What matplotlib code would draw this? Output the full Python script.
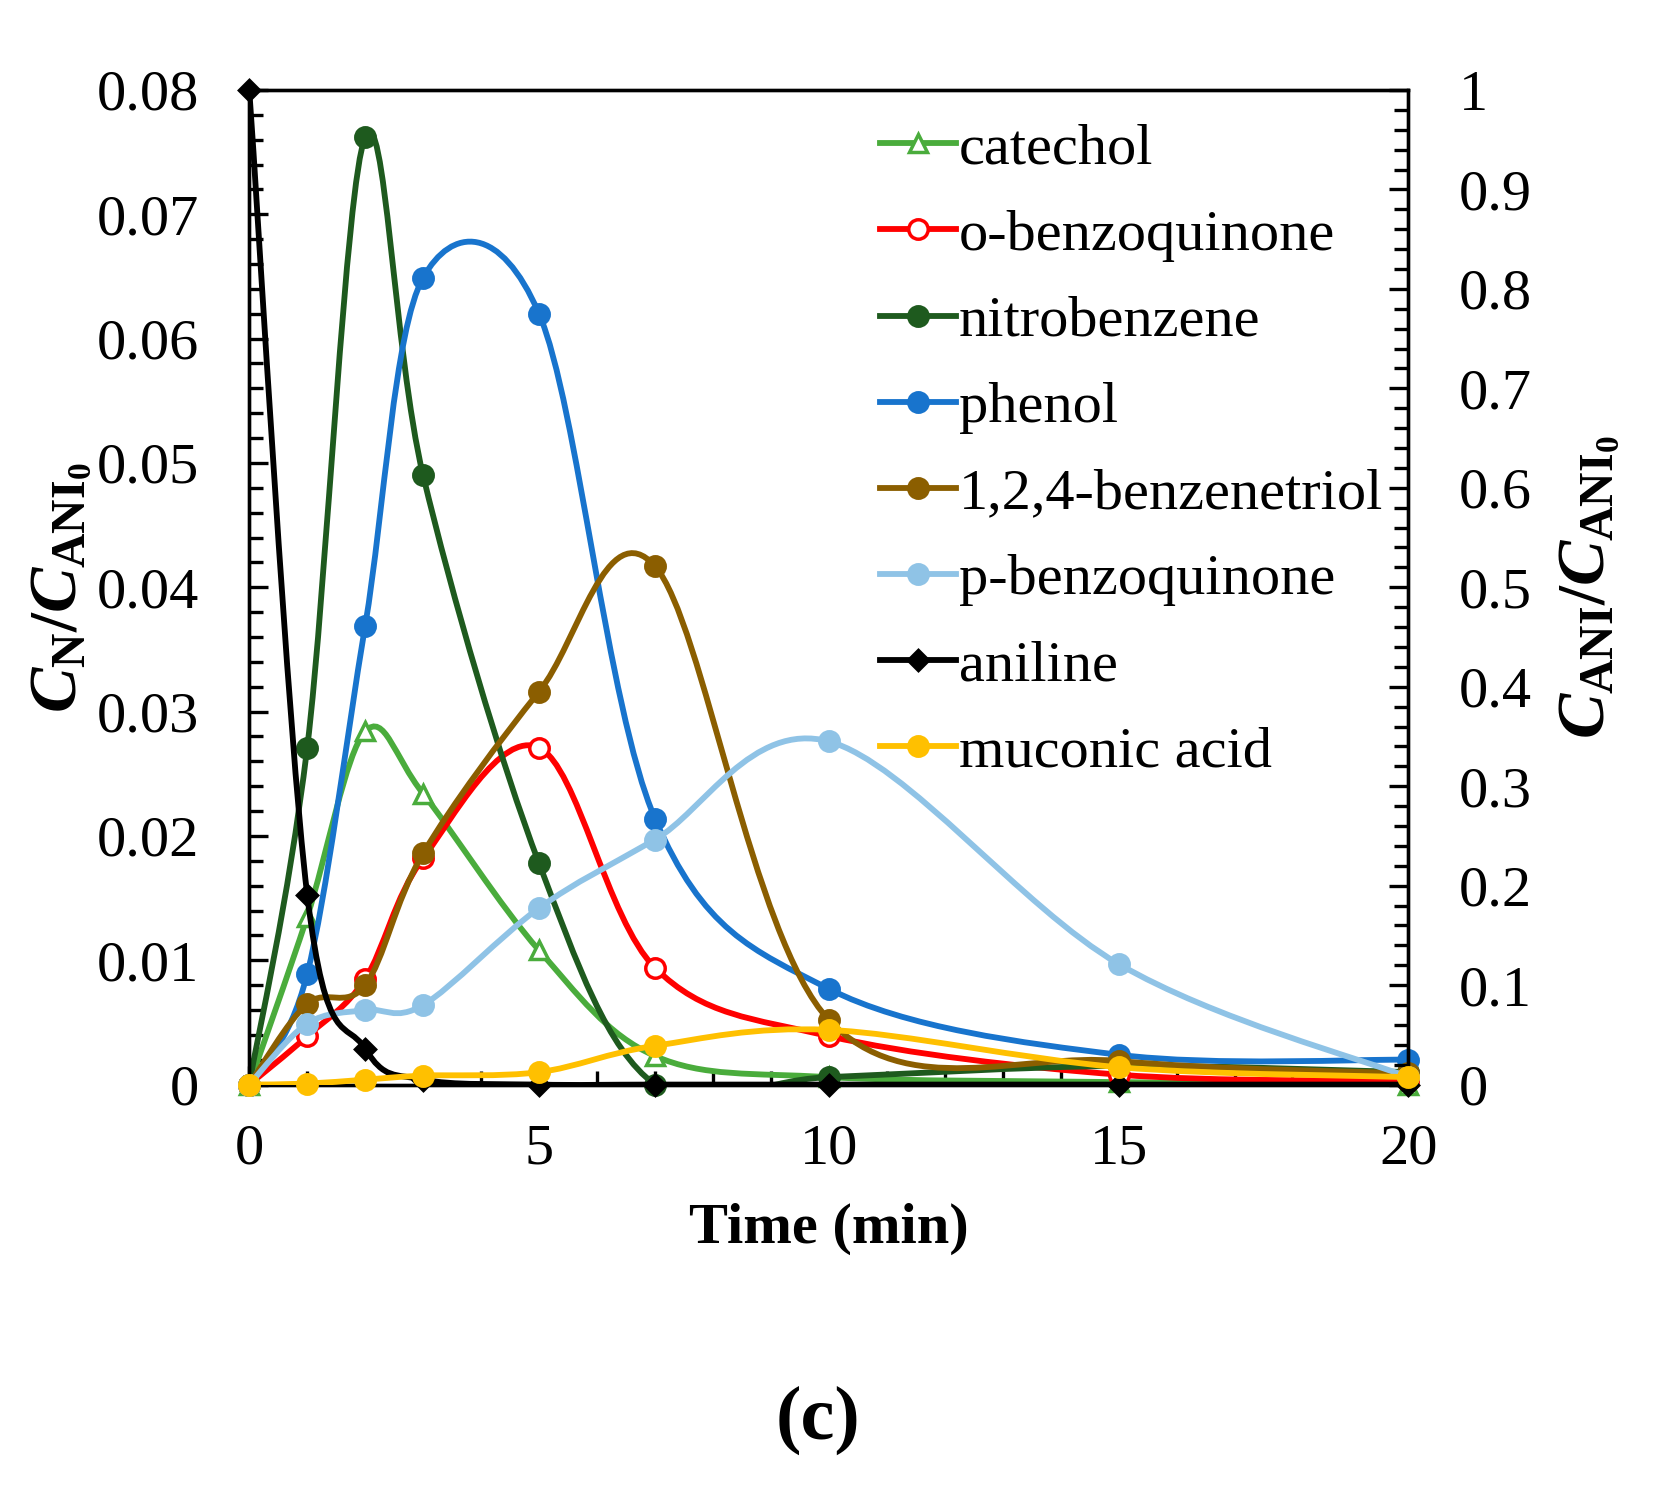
import numpy as np
import matplotlib
matplotlib.use("Agg")
import matplotlib.pyplot as plt
from matplotlib.path import Path
from matplotlib.patches import PathPatch
from matplotlib.lines import Line2D
from matplotlib.ticker import MultipleLocator

plt.rcParams['font.family'] = ['Liberation Serif', 'DejaVu Serif']
plt.rcParams['mathtext.fontset'] = 'custom'
plt.rcParams['mathtext.rm'] = 'Liberation Serif:bold'
plt.rcParams['mathtext.it'] = 'Liberation Serif:bold:italic'
plt.rcParams['mathtext.bf'] = 'Liberation Serif:bold'

time = [0, 1, 2, 3, 5, 7, 10, 15, 20]

# left axis series (C_N / C_ANI0)
catechol = [0, 0.0135, 0.0284, 0.0234, 0.0108, 0.0023, 0.0006, 0.0002, 0]
o_benzoquinone = [0, 0.0039, 0.0085, 0.0182, 0.0271, 0.0094, 0.0039, 0.0008, 0.0003]
nitrobenzene = [0, 0.0271, 0.0762, 0.0490, 0.0178, 0, 0.0006, 0.0015, 0.0010]
phenol = [0, 0.0089, 0.0369, 0.0649, 0.0620, 0.0214, 0.0077, 0.0024, 0.0020]
benzenetriol = [0, 0.0065, 0.0080, 0.0186, 0.0316, 0.0417, 0.0052, 0.0019, 0.0009]
p_benzoquinone = [0, 0.0049, 0.0060, 0.0064, 0.0142, 0.0197, 0.0276, 0.0097, 0.0006]

# right axis series (C_ANI / C_ANI0)
aniline = [1.0, 0.191, 0.036, 0.005, 0, 0, 0, 0, 0]
muconic_acid = [0, 0.001, 0.005, 0.009, 0.0125, 0.039, 0.055, 0.0175, 0.0075]

labels = ['catechol', 'o-benzoquinone', 'nitrobenzene', 'phenol',
          '1,2,4-benzenetriol', 'p-benzoquinone', 'aniline', 'muconic acid']
colors = ['#4aac3c', '#ff0000', '#1e5a1e', '#1874cd',
          '#8b5e00', '#8fc3e6', '#000000', '#ffc000']


def smooth_path(x, y):
    # Excel style smoothed line: cubic bezier segments, catmull-rom tangents
    p = np.column_stack([x, y]).astype(float)
    n = len(p)
    verts = [p[0]]
    codes = [Path.MOVETO]
    for i in range(n - 1):
        p0 = p[i - 1] if i > 0 else p[i]
        p3 = p[i + 2] if i + 2 < n else p[i + 1]
        c1 = p[i] + (p[i + 1] - p0) / 6.0
        c2 = p[i + 1] - (p3 - p[i]) / 6.0
        verts += [c1, c2, p[i + 1]]
        codes += [Path.CURVE4] * 3
    return Path(verts, codes)


fig = plt.figure(figsize=(16.55, 14.89), dpi=100)
ax = fig.add_axes([0.1506, 0.2716, 0.7004, 0.668])
ax2 = ax.twinx()

lw = 4.2
left_series = [catechol, o_benzoquinone, nitrobenzene, phenol, benzenetriol, p_benzoquinone]
markers = ['^', 'o', 'o', 'o', 'o', 'o', 'D', 'o']
msizes = [13, 14, 14, 14, 14, 14, 10, 14]
faces = ['white', 'white'] + colors[2:]

handles = []
for k in range(8):
    if k < 6:
        a, vals = ax, left_series[k]
    elif k == 6:
        a, vals = ax2, aniline
    else:
        a, vals = ax2, muconic_acid
    patch = PathPatch(smooth_path(time, vals), facecolor='none', edgecolor=colors[k],
                      lw=lw, transform=a.transData, zorder=2 + k * 0.1)
    a.add_patch(patch)
    a.plot(time, vals, linestyle='none', marker=markers[k], ms=msizes[k],
           mfc=faces[k], mec=colors[k], mew=2.5, zorder=2.05 + k * 0.1, clip_on=False)
    handles.append(Line2D([], [], color=colors[k], lw=lw, marker=markers[k],
                          ms=msizes[k], mfc=faces[k], mec=colors[k], mew=2.5))

ax.set_xlim(0, 20)
ax.set_ylim(0, 0.08)
ax2.set_ylim(0, 1)

ax.xaxis.set_major_locator(MultipleLocator(5))
ax.xaxis.set_minor_locator(MultipleLocator(1))
ax.yaxis.set_major_locator(MultipleLocator(0.01))
ax.yaxis.set_minor_locator(MultipleLocator(0.002))
ax2.yaxis.set_major_locator(MultipleLocator(0.1))
ax2.yaxis.set_minor_locator(MultipleLocator(0.02))

ax.set_yticks(np.arange(0, 0.081, 0.01))
ax.set_yticklabels(['0', '0.01', '0.02', '0.03', '0.04', '0.05', '0.06', '0.07', '0.08'])
ax2.set_yticks(np.arange(0, 1.01, 0.1))
ax2.set_yticklabels(['0', '0.1', '0.2', '0.3', '0.4', '0.5', '0.6', '0.7', '0.8', '0.9', '1'])

for a in (ax, ax2):
    for s in a.spines.values():
        s.set_linewidth(2.4)
    a.tick_params(which='major', direction='in', length=13.5, width=2.4, labelsize=42)
    a.tick_params(which='minor', direction='in', length=10, width=2.4)
ax.tick_params(axis='y', which='both', right=False, pad=36)
ax.tick_params(axis='x', which='both', top=False, pad=28)
ax2.tick_params(axis='y', which='both', pad=36)

ax.set_xlabel('Time (min)', fontsize=42, fontweight='bold', labelpad=20)
ax.set_ylabel(r'$C_\mathrm{N}/C_{\mathrm{ANI}_\mathrm{0}}$', fontsize=49, labelpad=2)
ax2.set_ylabel(r'$C_\mathrm{ANI}/C_{\mathrm{ANI}_\mathrm{0}}$', fontsize=49, labelpad=19,
               rotation=90)

ax.set_zorder(1)
ax2.set_zorder(2)
ax2.patch.set_visible(False)

leg = fig.legend(handles, labels, loc='upper left', bbox_to_anchor=(0.514, 0.937),
                 frameon=False, fontsize=42, handlelength=1.3, handletextpad=0.05,
                 labelspacing=0.57, borderpad=0)

fig.text(0.494, 0.046, '(c)', fontsize=55, fontweight='bold', ha='center', va='center')

fig.savefig('out.png', dpi=100)
